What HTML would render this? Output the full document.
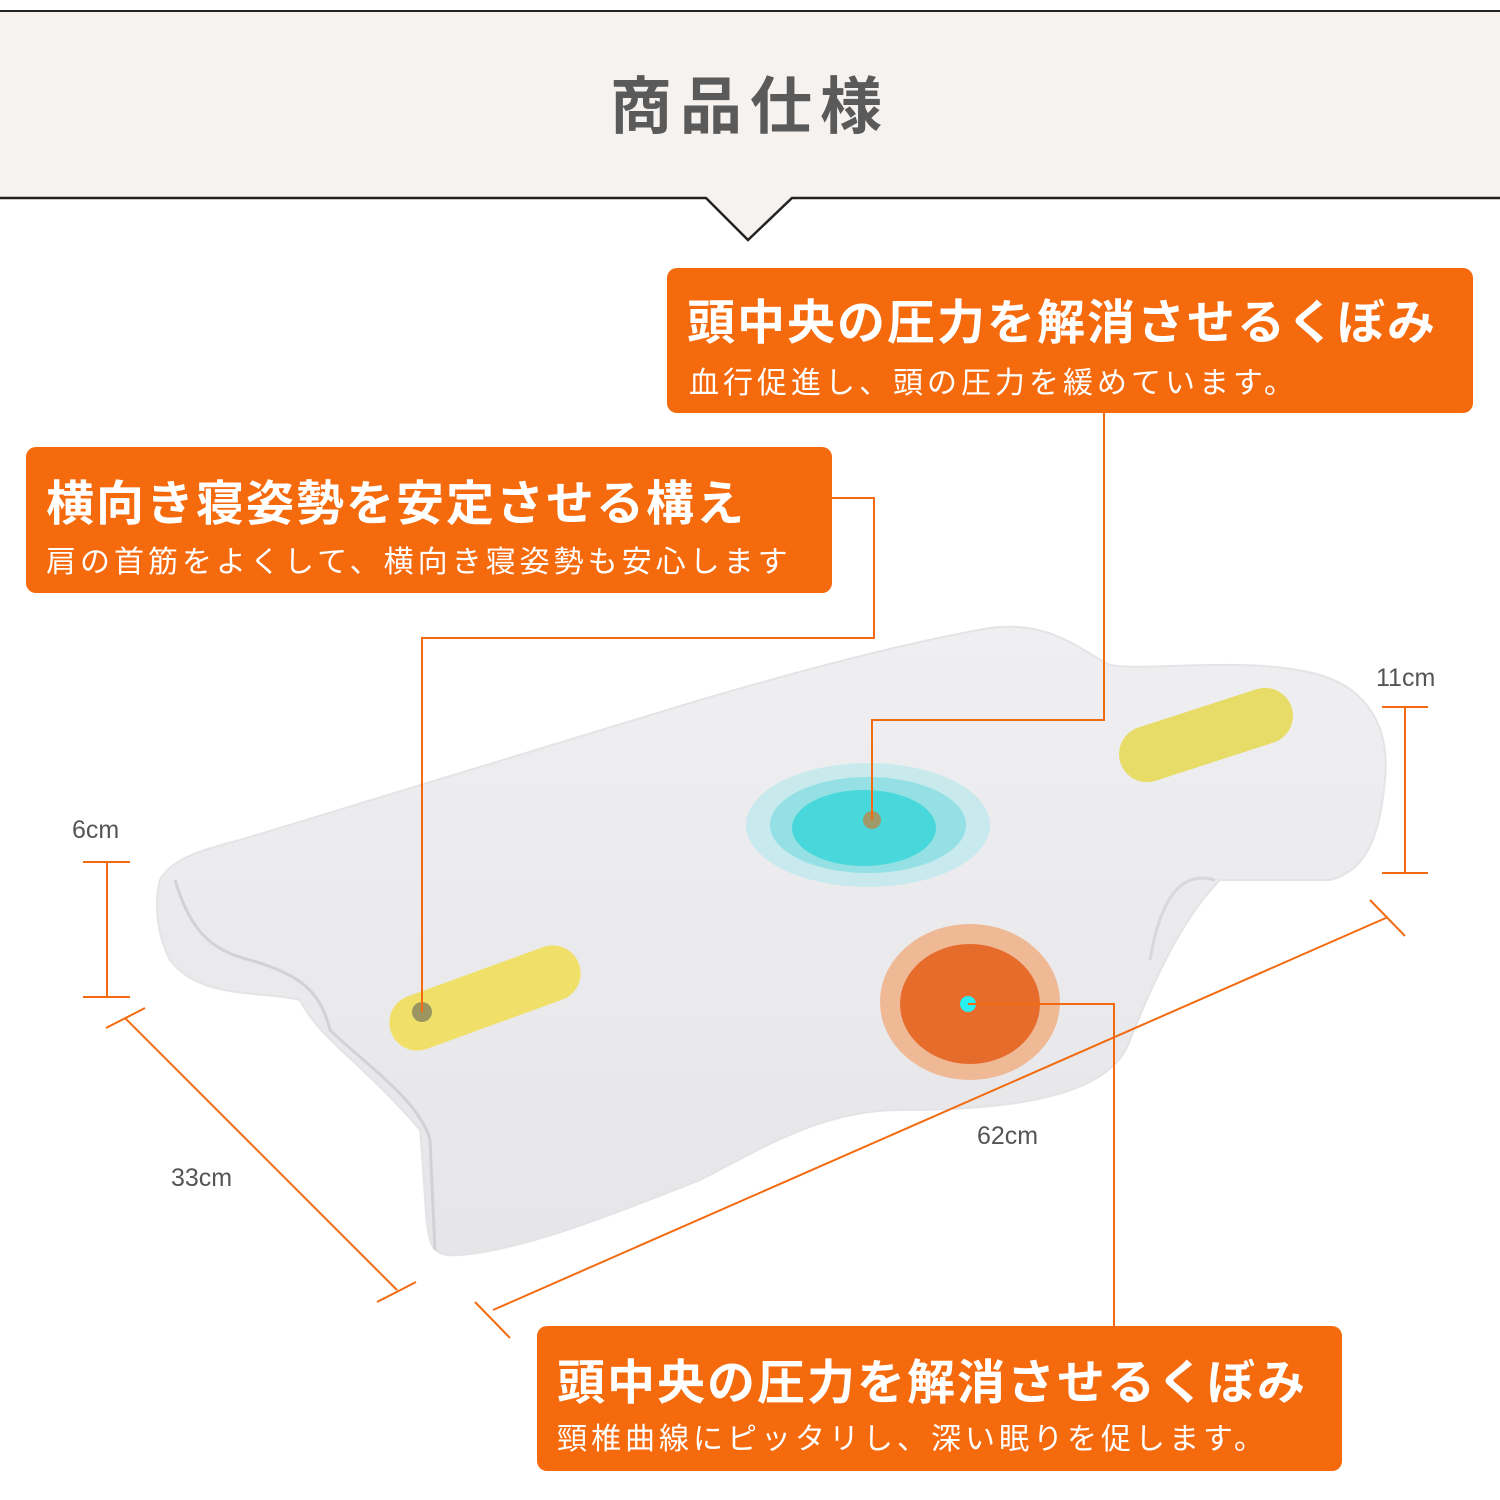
<!DOCTYPE html>
<html><head><meta charset="utf-8"><style>
body{margin:0;width:1500px;height:1500px;background:#fff;position:relative;overflow:hidden;font-family:"Liberation Sans","Noto Sans CJK JP",sans-serif}
.box{position:absolute;background:#f56a0d;border-radius:10px;color:#fff}
.big{position:absolute;font-weight:bold;font-size:48px;white-space:nowrap;letter-spacing:2px}
.sm{position:absolute;font-size:30px;white-space:nowrap;letter-spacing:4px}
.lbl{position:absolute;font-size:25px;color:#555;white-space:nowrap}
</style></head><body>
<svg width="1500" height="1500" style="position:absolute;left:0;top:0">
<path d="M0 10H1500V198H792L748 240L706 198H0Z" fill="#f6f2ef"/>
<line x1="0" y1="11" x2="1500" y2="11" stroke="#222" stroke-width="2"/>
<path d="M0 198H706L748 240L792 198H1500" fill="none" stroke="#222" stroke-width="2.5"/>
<defs><linearGradient id="g" x1="0" y1="0" x2="0" y2="1"><stop offset="0" stop-color="#efeff1"/><stop offset="1" stop-color="#e6e6e9"/></linearGradient></defs>
<path d="M160 880 C170 860 200 850 240 840 L700 700 C820 665 920 640 990 628 C1050 620 1080 650 1110 665 C1150 672 1250 655 1320 675 C1370 690 1390 730 1385 780 C1380 830 1370 870 1330 880 C1280 880 1240 880 1220 880 C1180 920 1150 990 1130 1040 C1110 1100 1000 1110 900 1110 C820 1110 760 1150 700 1180 C600 1220 520 1250 460 1255 C420 1258 430 1240 420 1130 C360 1060 320 1040 300 1000 C260 990 200 1000 170 960 C155 930 155 900 160 880Z" fill="url(#g)" stroke="#e4e4e6" stroke-width="2"/>
<path d="M175 880 C190 930 210 950 250 960 C300 975 320 990 330 1030 C360 1060 420 1100 430 1140 L435 1250" fill="none" stroke="#d2d2d6" stroke-width="3"/>
<path d="M1215 880 C1180 870 1160 900 1150 960" fill="none" stroke="#d8d8dc" stroke-width="3"/>
<ellipse cx="868" cy="825" rx="122" ry="62" fill="#bfe9ec" opacity="0.8"/>
<ellipse cx="868" cy="825" rx="98" ry="48" fill="#95e0e4"/>
<ellipse cx="864" cy="828" rx="72" ry="38" fill="#48d8dc"/>
<circle cx="872" cy="820" r="9" fill="#a09a6a"/>
<ellipse cx="970" cy="1002" rx="90" ry="78" fill="#efb996"/>
<ellipse cx="970" cy="1004" rx="70" ry="60" fill="#e66c2c"/>
<circle cx="968" cy="1004" r="8" fill="#28f0f0"/>
<g transform="rotate(-20 485 998)"><rect x="385" y="970" width="200" height="56" rx="28" fill="#f0e06a"/></g>
<circle cx="422" cy="1012" r="10" fill="#9c9560"/>
<g transform="rotate(-18 1206 735)"><rect x="1116" y="707" width="180" height="56" rx="28" fill="#e8dc68"/></g>
<g stroke="#f26b10" stroke-width="2" fill="none">
<path d="M832 498H874V638H422V1012"/>
<path d="M1104 413V720H872V820"/>
<path d="M968 1004H1114V1326"/>
<path d="M107 862V997M83 862H130M83 997H130"/>
<path d="M1405 707V873M1382 707H1428M1382 873H1428"/>
<path d="M125 1018L397 1290M106 1028L145 1008M377 1302L416 1282"/>
<path d="M493 1310L1388 917M475 1302L510 1338M1370 900L1405 936"/>
</g>
</svg>
<div style="position:absolute;left:0;top:56px;width:1500px;text-align:center;font-size:62px;font-weight:bold;color:#5a5a5a;letter-spacing:8px">商品仕様</div>
<div class="box" style="left:667px;top:268px;width:806px;height:145px">
<div class="big" style="left:20px;top:15px">頭中央の圧力を解消させるくぼみ</div>
<div class="sm" style="left:22px;top:90px">血行促進し、頭の圧力を緩めています。</div></div>
<div class="box" style="left:26px;top:447px;width:806px;height:146px">
<div class="big" style="left:20px;top:17px">横向き寝姿勢を安定させる構え</div>
<div class="sm" style="left:20px;top:90px">肩の首筋をよくして、横向き寝姿勢も安心します</div></div>
<div class="box" style="left:537px;top:1326px;width:805px;height:145px">
<div class="big" style="left:20px;top:17px">頭中央の圧力を解消させるくぼみ</div>
<div class="sm" style="left:20px;top:88px">頸椎曲線にピッタリし、深い眠りを促します。</div></div>
<div class="lbl" style="left:72px;top:816px">6cm</div>
<div class="lbl" style="left:1376px;top:664px">11cm</div>
<div class="lbl" style="left:171px;top:1164px">33cm</div>
<div class="lbl" style="left:977px;top:1122px">62cm</div>
</body></html>
